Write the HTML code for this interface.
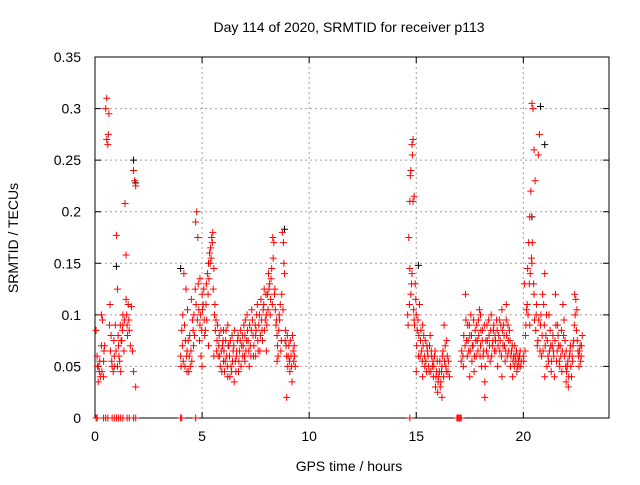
<!DOCTYPE html>
<html><head><meta charset="utf-8"><style>
body{margin:0;background:#fff}
svg text{font-family:"Liberation Sans",sans-serif;font-size:14px;fill:#000}
</style></head><body>
<svg id="chart" width="640" height="480">
<rect width="640" height="480" fill="#fff"/>
<text x="349" y="32" text-anchor="middle">Day 114 of 2020, SRMTID for receiver p113</text>
<text x="349" y="471" text-anchor="middle">GPS time / hours</text>
<text transform="translate(18,238) rotate(-90)" text-anchor="middle">SRMTID / TECUs</text>
<g id="grid"></g><g id="axes"></g><g id="black"></g><g id="red"></g>
</svg>
<script>
const xTicks=[0,5,10,15,20];
const yTicks=[0,0.05,0.1,0.15,0.2,0.25,0.3,0.35];
const yTickLabels=["0","0.05","0.1","0.15","0.2","0.25","0.3","0.35"];
const redT=[0.05,0.1,0.15,0.2,0.25,0.3,0.35,0.4,0.45,0.5,0.55,0.55,0.6,0.62,0.65,0.7,0.75,0.8,0.85,0.9,0.95,1.0,1.05,1.1,1.15,1.2,1.25,1.3,1.35,1.4,1.45,1.5,1.55,1.6,1.65,1.7,1.75,1.8,1.85,1.9,1.8,1.9,0.4,0.3,0.15,1.05,1.3,1.45,
4.0,4.05,4.1,4.15,4.2,4.25,4.3,4.35,4.4,4.45,4.5,4.55,4.6,4.65,4.7,4.75,4.8,4.85,4.9,4.95,5.0,5.05,5.1,5.15,5.2,5.25,5.3,5.35,5.4,5.45,5.5,5.55,5.6,5.65,5.7,5.75,5.8,5.85,5.9,5.95,6.0,6.05,6.1,6.15,6.2,6.25,6.3,6.35,6.4,6.45,6.5,6.55,6.6,6.65,6.7,6.75,6.8,6.85,6.9,6.95,7.0,7.05,7.1,7.15,7.2,7.25,7.3,7.35,7.4,7.5,7.55,7.6,7.65,7.7,7.75,7.8,7.85,7.9,7.95,8.0,8.05,8.1,8.15,8.2,8.25,8.3,8.35,8.4,8.45,8.5,8.55,8.6,8.65,8.7,8.75,8.8,8.85,8.9,8.95,9.0,9.05,9.1,9.15,9.2,9.25,9.3,9.35,8.95,4.3,5.3,5.0,6.2,7.0,7.5,8.0,8.5,6.0,5.55,4.9,
14.6,14.65,14.7,14.75,14.8,14.85,14.7,14.75,14.8,14.85,14.9,14.95,15.0,15.05,15.1,15.15,15.2,15.25,15.3,15.35,15.4,15.45,15.5,15.55,15.6,15.65,15.7,15.75,15.8,15.85,15.9,15.95,16.0,16.05,16.1,16.15,16.2,16.25,16.3,16.35,16.4,16.45,16.5,16.55,16.2,15.0,15.3,14.9,
17.1,17.2,17.3,17.35,17.4,17.45,17.5,17.55,17.6,17.65,17.7,17.75,17.8,17.85,17.9,17.95,18.0,18.05,18.1,18.15,18.2,18.25,18.3,18.35,18.4,18.45,18.5,18.55,18.6,18.65,18.7,18.75,18.8,18.85,18.9,18.95,19.0,19.05,19.1,19.15,19.2,19.25,19.3,19.35,19.4,19.45,19.5,19.55,19.6,19.65,19.7,19.75,19.8,19.85,19.9,18.2,17.5,19.0,18.0,19.2,
20.0,20.05,20.1,20.15,20.2,20.25,20.3,20.35,20.4,20.45,20.5,20.55,20.6,20.65,20.7,20.75,20.8,20.85,20.9,20.95,21.0,21.05,21.1,21.15,21.2,21.25,21.3,21.35,21.4,21.45,21.5,21.55,21.6,21.65,21.7,21.75,21.8,21.85,21.9,21.95,22.0,22.05,22.1,22.15,22.2,22.25,22.3,22.35,22.4,22.45,22.5,22.55,22.6,22.65,22.7,22.75,20.4,20.3,20.5,21.0,22.0];
const redV=[0.085,0.06,0.05,0.045,0.04,0.1,0.095,0.055,0.07,0.3,0.31,0.27,0.265,0.275,0.295,0.11,0.08,0.05,0.045,0.06,0.09,0.177,0.125,0.07,0.055,0.045,0.075,0.1,0.065,0.208,0.158,0.09,0.11,0.085,0.07,0.108,0.065,0.24,0.23,0.225,0.045,0.03,0.04,0.07,0.035,0.05,0.09,0.115,
0.06,0.085,0.1,0.14,0.05,0.125,0.065,0.075,0.06,0.05,0.115,0.095,0.07,0.08,0.19,0.2,0.175,0.105,0.09,0.06,0.12,0.11,0.095,0.085,0.13,0.14,0.15,0.16,0.165,0.175,0.18,0.145,0.11,0.095,0.075,0.06,0.08,0.05,0.065,0.07,0.055,0.045,0.075,0.06,0.09,0.07,0.04,0.05,0.08,0.065,0.035,0.055,0.06,0.075,0.045,0.065,0.085,0.07,0.06,0.09,0.08,0.065,0.1,0.075,0.05,0.07,0.085,0.095,0.06,0.08,0.1,0.075,0.09,0.065,0.115,0.085,0.105,0.125,0.095,0.1,0.12,0.14,0.13,0.115,0.145,0.175,0.17,0.125,0.09,0.08,0.06,0.1,0.11,0.075,0.18,0.17,0.14,0.085,0.06,0.05,0.07,0.045,0.06,0.035,0.065,0.07,0.05,0.02,0.045,0.07,0.05,0.04,0.055,0.06,0.065,0.055,0.085,0.06,0.135,
0.1,0.175,0.21,0.24,0.265,0.27,0.145,0.12,0.14,0.21,0.215,0.13,0.1,0.085,0.06,0.11,0.075,0.065,0.09,0.08,0.05,0.055,0.07,0.06,0.045,0.08,0.065,0.05,0.04,0.06,0.03,0.045,0.025,0.04,0.055,0.035,0.05,0.065,0.09,0.07,0.045,0.06,0.055,0.04,0.02,0.045,0.04,0.095,
0.055,0.05,0.12,0.075,0.09,0.065,0.08,0.1,0.055,0.07,0.045,0.085,0.06,0.075,0.095,0.105,0.07,0.05,0.085,0.065,0.035,0.075,0.09,0.06,0.08,0.055,0.1,0.07,0.085,0.065,0.075,0.095,0.05,0.08,0.065,0.09,0.105,0.07,0.08,0.055,0.095,0.06,0.075,0.085,0.05,0.065,0.04,0.06,0.07,0.055,0.045,0.06,0.05,0.065,0.055,0.02,0.04,0.04,0.1,0.11,
0.06,0.13,0.08,0.105,0.145,0.17,0.195,0.22,0.305,0.3,0.26,0.23,0.1,0.07,0.255,0.275,0.09,0.06,0.12,0.11,0.14,0.08,0.05,0.06,0.1,0.085,0.045,0.07,0.065,0.04,0.12,0.055,0.09,0.07,0.05,0.06,0.045,0.11,0.095,0.075,0.065,0.05,0.03,0.06,0.07,0.04,0.055,0.075,0.12,0.115,0.105,0.065,0.05,0.07,0.06,0.08,0.15,0.09,0.12,0.04,0.035];
const extraT=[0.12,0.22,0.32,0.42,0.68,0.72,0.78,0.88,0.92,0.98,1.08,1.12,1.18,1.22,1.28,1.38,1.48,1.52,1.58,
4.02,4.08,4.12,4.18,4.22,4.28,4.32,4.38,4.42,4.48,4.52,4.58,4.62,4.68,4.72,4.78,4.82,4.88,4.92,4.98,5.02,5.08,5.12,5.18,5.22,5.28,5.32,5.38,5.42,5.48,5.52,5.58,5.62,5.68,5.72,5.78,5.82,5.88,5.92,5.98,6.02,6.08,6.12,6.18,6.22,6.28,6.32,6.38,6.42,6.48,6.52,6.58,6.62,6.68,6.72,6.78,6.82,6.88,6.92,6.98,7.02,7.08,7.12,7.18,7.22,7.28,7.32,7.38,7.42,7.48,7.52,7.58,7.62,7.68,7.72,7.78,7.82,7.88,7.92,7.98,8.02,8.08,8.12,8.18,8.22,8.28,8.32,8.38,8.42,8.48,8.52,8.58,8.62,8.68,8.72,8.78,8.82,8.88,8.92,8.98,9.02,9.08,9.12,9.18,9.22,9.28,9.32,
14.62,14.68,14.72,14.78,14.82,14.88,14.92,14.98,15.02,15.08,15.12,15.18,15.22,15.28,15.32,15.38,15.42,15.48,15.52,15.58,15.62,15.68,15.72,15.78,15.82,15.88,15.92,15.98,16.02,16.08,16.12,16.18,16.22,16.28,16.32,16.38,16.42,16.48,
17.12,17.18,17.22,17.28,17.32,17.38,17.42,17.48,17.52,17.58,17.62,17.68,17.72,17.78,17.82,17.88,17.92,17.98,18.02,18.08,18.12,18.18,18.22,18.28,18.32,18.38,18.42,18.48,18.52,18.58,18.62,18.68,18.72,18.78,18.82,18.88,18.92,18.98,19.02,19.08,19.12,19.18,19.22,19.28,19.32,19.38,19.42,19.48,19.52,19.58,19.62,19.68,19.72,19.78,19.82,19.88,
20.02,20.08,20.12,20.18,20.22,20.28,20.32,20.38,20.42,20.48,20.52,20.58,20.62,20.68,20.72,20.78,20.82,20.88,20.92,20.98,21.02,21.08,21.12,21.18,21.22,21.28,21.32,21.38,21.42,21.48,21.52,21.58,21.62,21.68,21.72,21.78,21.82,21.88,21.92,21.98,22.02,22.08,22.12,22.18,22.22,22.28,22.32,22.38,22.42,22.48,22.52,22.58,22.62,22.68,22.72];
const extraV=[0.05,0.055,0.045,0.065,0.09,0.065,0.055,0.075,0.05,0.065,0.08,0.06,0.09,0.075,0.085,0.095,0.1,0.08,0.095,
0.05,0.07,0.055,0.09,0.075,0.06,0.105,0.045,0.08,0.065,0.055,0.085,0.1,0.125,0.11,0.095,0.13,0.075,0.1,0.085,0.105,0.125,0.08,0.11,0.095,0.12,0.135,0.15,0.155,0.17,0.125,0.1,0.085,0.065,0.09,0.07,0.06,0.085,0.045,0.075,0.065,0.055,0.085,0.05,0.07,0.06,0.075,0.045,0.055,0.07,0.085,0.045,0.065,0.08,0.055,0.075,0.05,0.08,0.07,0.06,0.095,0.075,0.085,0.065,0.09,0.06,0.105,0.08,0.07,0.09,0.085,0.11,0.065,0.1,0.08,0.095,0.075,0.11,0.085,0.12,0.09,0.105,0.125,0.1,0.135,0.11,0.155,0.12,0.105,0.095,0.07,0.085,0.095,0.065,0.12,0.105,0.15,0.075,0.07,0.08,0.06,0.055,0.075,0.05,0.08,0.055,0.06,
0.09,0.11,0.235,0.13,0.255,0.105,0.09,0.115,0.07,0.095,0.08,0.06,0.085,0.055,0.07,0.06,0.075,0.045,0.065,0.05,0.07,0.045,0.06,0.055,0.05,0.065,0.04,0.055,0.035,0.045,0.03,0.045,0.06,0.04,0.055,0.05,0.075,0.045,
0.065,0.06,0.08,0.07,0.095,0.06,0.075,0.09,0.065,0.08,0.07,0.095,0.06,0.075,0.09,0.065,0.08,0.06,0.085,0.075,0.06,0.09,0.05,0.065,0.075,0.095,0.07,0.085,0.06,0.075,0.09,0.08,0.065,0.085,0.07,0.095,0.075,0.06,0.085,0.09,0.07,0.065,0.08,0.09,0.065,0.075,0.06,0.07,0.055,0.05,0.06,0.065,0.05,0.055,0.06,0.05,
0.055,0.065,0.09,0.11,0.1,0.13,0.14,0.155,0.17,0.13,0.095,0.085,0.11,0.075,0.095,0.065,0.1,0.08,0.065,0.09,0.07,0.1,0.075,0.055,0.065,0.07,0.055,0.08,0.06,0.075,0.09,0.065,0.08,0.055,0.07,0.085,0.065,0.08,0.06,0.05,0.045,0.055,0.04,0.065,0.05,0.06,0.07,0.09,0.1,0.085,0.075,0.06,0.065,0.055,0.07];
const zeroT=[0.05,0.1,0.4,0.5,0.6,0.8,0.9,1.0,1.1,1.2,1.3,1.5,1.6,1.8,1.9,4.0,4.05,4.7,14.7,16.9,16.95,17.0,17.05,17.1];
const blackT=[1.8,1.0,20.4,20.8,8.85,4.0,15.1,21.0,1.9];
const blackV=[0.25,0.147,0.195,0.302,0.183,0.145,0.148,0.265,0.228];

const X0=95,X1=609,Y0=418,Y1=57,XMAX=24,YMAX=0.35;
const sx=t=>X0+(X1-X0)*t/XMAX;
const sy=v=>Y0-(Y0-Y1)*v/YMAX;
const NS="http://www.w3.org/2000/svg";
function mk(tag,attrs,parent){const e=document.createElementNS(NS,tag);for(const k in attrs)e.setAttribute(k,attrs[k]);document.getElementById(parent).appendChild(e);return e;}
xTicks.forEach((t,i)=>{
  const x=sx(t);
  if(t>0){const g=mk('line',{x1:x,x2:x,y1:Y1,y2:Y0,stroke:'#a0a0a0','stroke-dasharray':'2,3'},'grid');
  
  }
  const tk=mk('path',{d:`M${x},${Y0}v-6M${x},${Y1}v6`,stroke:'#000'},'axes');
  
  
  const lb=mk('text',{x:x,y:Y0+23,'text-anchor':'middle'},'axes');lb.textContent=String(t);
  
  
});
yTicks.forEach((v,i)=>{
  const y=sy(v);
  if(v>0&&v<YMAX){const g=mk('line',{x1:X0,x2:X1,y1:y,y2:y,stroke:'#a0a0a0','stroke-dasharray':'2,3'},'grid');
  
  }
  const tk=mk('path',{d:`M${X0},${y}h6M${X1},${y}h-6`,stroke:'#000'},'axes');
  
  
  const lb=mk('text',{x:X0-14,y:y+5,'text-anchor':'end'},'axes');lb.textContent=yTickLabels[i];
  
  
});
const fr=mk('rect',{x:X0,y:Y1,width:X1-X0,height:Y0-Y1,fill:'none',stroke:'#000'},'axes');


function cross(t,v,col,par,name){
  const x=sx(t),y=sy(v);
  const p=mk('path',{d:`M${x-3.5},${y}h7M${x},${y-3.5}v7`,stroke:col,'stroke-width':1},par);
  
  
}
blackT.forEach((t,i)=>cross(t,blackV[i],'#000','black','black-point'));
redT.forEach((t,i)=>cross(t,redV[i],'#ff0000','red','red-point'));
extraT.forEach((t,i)=>cross(t,extraV[i],'#ff0000','red','red-point'));
zeroT.forEach(t=>cross(t,0,'#ff0000','red','zero-point'));
</script>
</body></html>
